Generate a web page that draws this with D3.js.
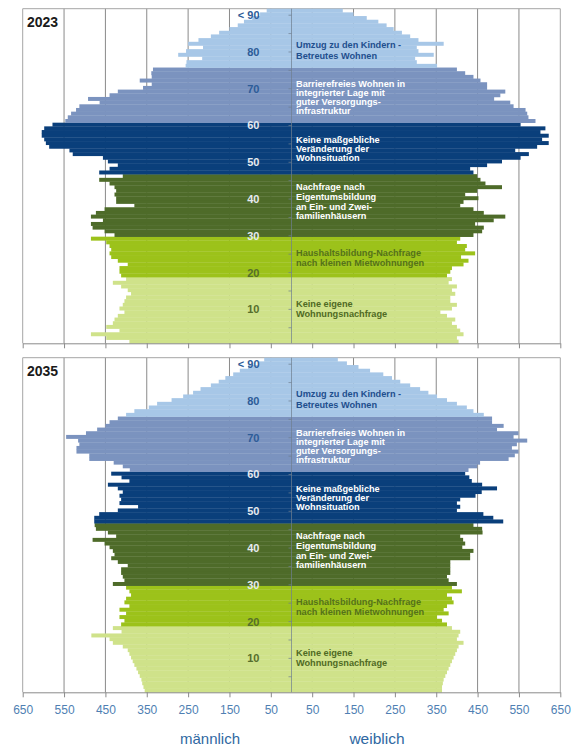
<!DOCTYPE html>
<html>
<head>
<meta charset="utf-8">
<script src="https://cdn.jsdelivr.net/npm/d3@7"></script>
<style>
  body { margin: 0; background: #fff; }
  svg { display: block; font-family: "Liberation Sans", Arial, sans-serif; }
</style>
</head>
<body>
<script>
// ages 0 .. 90 (90 = "< 90" class)
var ages = d3.range(0, 91);

var male2023 = [392, 448, 485, 416, 448, 432, 428, 420, 404, 416,
  408, 404, 400, 388, 396, 412, 432, 400, 412, 416,
  416, 396, 420, 436, 440, 436, 440, 448, 485, 428,
  452, 481, 485, 456, 485, 473, 452, 380, 424, 424,
  428, 424, 428, 440, 465, 408, 465, 440, 420, 444,
  456, 529, 537, 586, 594, 598, 604, 604, 598, 578,
  547, 541, 533, 521, 513, 464, 492, 440, 420, 359,
  338, 367, 338, 339, 335, 256, 254, 216, 274, 255,
  214, 250, 225, 195, 175, 150, 130, 115, 95, 76, 60];

var female2023 = [404, 400, 416, 408, 400, 388, 396, 376, 360, 388,
  400, 384, 384, 396, 388, 400, 380, 388, 376, 384,
  388, 416, 428, 410, 444, 420, 424, 400, 408, 440,
  461, 465, 444, 489, 517, 465, 440, 408, 416, 452,
  420, 449, 509, 469, 457, 449, 440, 432, 473, 509,
  554, 574, 541, 594, 622, 606, 622, 602, 614, 554,
  590, 573, 570, 566, 537, 529, 490, 505, 517, 473,
  473, 457, 440, 420, 400, 352, 303, 299, 344, 307,
  303, 368, 307, 287, 267, 247, 230, 210, 182, 150, 124];

var male2035 = [355, 358, 361, 363, 367, 371, 375, 380, 384, 388,
  392, 396, 408, 432, 440, 484, 411, 432, 412, 404,
  416, 400, 416, 392, 404, 400, 388, 392, 400, 432,
  404, 408, 412, 412, 396, 420, 436, 428, 432, 440,
  452, 481, 424, 444, 473, 476, 477, 477, 465, 420,
  371, 416, 412, 416, 408, 420, 444, 392, 411, 436,
  391, 408, 430, 489, 489, 520, 520, 513, 516, 545,
  497, 470, 450, 440, 420, 400, 380, 345, 325, 290,
  262, 238, 220, 195, 176, 160, 141, 125, 105, 80, 66];

var female2035 = [364, 364, 366, 368, 372, 376, 380, 384, 388, 392,
  396, 400, 404, 416, 400, 404, 408, 388, 376, 364,
  352, 380, 368, 376, 392, 388, 376, 412, 388, 400,
  380, 376, 384, 384, 384, 384, 432, 432, 440, 413,
  420, 415, 408, 462, 461, 440, 512, 488, 464, 400,
  408, 400, 408, 445, 460, 497, 461, 436, 430, 420,
  428, 449, 456, 525, 540, 549, 533, 545, 570, 537,
  549, 497, 513, 485, 485, 465, 440, 424, 400, 376,
  352, 331, 311, 287, 263, 243, 222, 190, 162, 134, 112];

var years = ["2023", "2035"];
var maleSeries = [male2023, male2035];
var femaleSeries = [female2023, female2035];

// age groups: first age of each group
var groupStart = [0, 18, 29, 46, 60, 75];
var groupText = [
  ["Keine eigene", "Wohnungsnachfrage"],
  ["Haushaltsbildung-Nachfrage", "nach kleinen Mietwohnungen"],
  ["Nachfrage nach", "Eigentumsbildung", "an Ein- und Zwei-", "familienhäusern"],
  ["Keine maßgebliche", "Veränderung der", "Wohnsituation"],
  ["Barrierefreies Wohnen in", "integrierter Lage mit", "guter Versorgungs-", "infrastruktur"],
  ["Umzug zu den Kindern -", "Betreutes Wohnen"]
];
var ageTicks = [90, 80, 70, 60, 50, 40, 30, 20, 10];
var xTicks = [-650, -550, -450, -350, -250, -150, -50, 50, 150, 250, 350, 450, 550, 650];

// styles
var groupColor = ["#cfe28a", "#9cc21a", "#4e6b29", "#0a3f7b", "#7b93bf", "#a7c7e7"];
var groupTextColor = ["#4f6b24", "#557219", "#ffffff", "#ffffff", "#ffffff", "#1f4f8e"];
var groupTextTop = [295, 244, 178.5, 131, 75.3, 36.2];
var groupLineGap = [9.8, 10.3, 9.6, 9.2, 9, 10.5];

var width = 571, height = 747;
var panelTop = [8.7, 357.7];
var plotH = 334.6;

var svg = d3.select("body").append("svg")
  .attr("width", width)
  .attr("height", height);

var x = d3.scaleLinear().domain([-650, 650]).range([22.7, 560.3]);

function groupOf(age) {
  var g = 0;
  groupStart.forEach(function(s, i) { if (age >= s) g = i; });
  return g;
}

function ageLabelColor(a) {
  if (a >= 70) return "#2d5c98";
  if (a >= 30) return "#e6eaef";
  return "#566e2c";
}

panelTop.forEach(function(top, p) {
  var bottom = top + plotH;
  var y = d3.scaleBand().domain(ages.slice().reverse()).range([top, bottom]).padding(0);
  var bh = y.bandwidth();
  var g = svg.append("g");

  // gridlines behind the bars
  g.selectAll(".grid")
    .data(xTicks.slice(1, -1))
    .enter().append("line")
      .attr("x1", function(d) { return x(d); })
      .attr("x2", function(d) { return x(d); })
      .attr("y1", top).attr("y2", bottom)
      .style("stroke", "#8a8a8a")
      .style("stroke-width", 1);

  // frame
  g.append("path")
    .attr("d", "M" + x(-650) + "," + bottom + "V" + top + "H" + x(650) + "V" + bottom)
    .style("fill", "none")
    .style("stroke", "#a6a6a6")
    .style("stroke-width", 1);

  // bars: one band per age from male to female value
  var male = maleSeries[p], female = femaleSeries[p];
  g.selectAll(".bar")
    .data(ages)
    .enter().append("rect")
      .attr("x", function(a) { return x(-male[a]); })
      .attr("width", function(a) { return x(female[a]) - x(-male[a]); })
      .attr("y", function(a) { return y(a); })
      .attr("height", bh + 0.3)
      .style("fill", function(a) { return groupColor[groupOf(a)]; });

  // centre axis with ticks every 5 years
  g.append("line")
    .attr("x1", x(0)).attr("x2", x(0))
    .attr("y1", top).attr("y2", bottom)
    .style("stroke", "#6f7f90")
    .style("stroke-width", 1)
    .style("opacity", 0.7);
  g.selectAll(".ytick")
    .data(d3.range(5, 91, 5))
    .enter().append("line")
      .attr("x1", x(0) - 3).attr("x2", x(0))
      .attr("y1", function(a) { return y(a) + bh * 1.5 + 1; })
      .attr("y2", function(a) { return y(a) + bh * 1.5 + 1; })
      .style("stroke", "#6f7f90")
      .style("opacity", 0.7);

  // age labels
  g.selectAll(".agelab")
    .data(ageTicks)
    .enter().append("text")
      .attr("x", 259.5)
      .attr("y", function(a) { return y(a) + bh * 1.5 + 1; })
      .attr("dy", "0.36em")
      .attr("text-anchor", "end")
      .style("font-size", "11px")
      .style("font-weight", "bold")
      .style("fill", ageLabelColor)
      .text(function(a) { return a === 90 ? "< 90" : a; });

  // group descriptions
  groupText.forEach(function(lines, i) {
    var t = g.append("text")
      .attr("x", 296)
      .style("font-size", "9.2px")
      .style("font-weight", "bold")
      .style("fill", groupTextColor[i]);
    lines.forEach(function(line, k) {
      t.append("tspan")
        .attr("x", 296)
        .attr("y", top + groupTextTop[i] + k * groupLineGap[i])
        .attr("dy", "0.35em")
        .text(line);
    });
  });

  // year
  g.append("text")
    .attr("x", 27)
    .attr("y", top + 18)
    .style("font-size", "14px")
    .style("font-weight", "bold")
    .style("fill", "#1a1a1a")
    .text(years[p]);

  // bottom axis
  var axis = d3.axisBottom(x)
    .tickValues(xTicks)
    .tickSize(5)
    .tickSizeOuter(0)
    .tickFormat(p === 1 ? function(d) { return Math.abs(d); } : "");
  var ax = g.append("g")
    .attr("transform", "translate(0," + bottom + ")")
    .call(axis);
  ax.select(".domain").style("stroke", "#8a8a8a");
  ax.selectAll(".tick line").style("stroke", "#8a8a8a");
  ax.selectAll(".tick text")
    .attr("dy", "1.15em")
    .style("font-size", "12px")
    .style("font-family", "\"Liberation Sans\", Arial, sans-serif")
    .style("fill", "#4f7fb3");
});

svg.append("text")
  .attr("x", 210).attr("y", 744)
  .attr("text-anchor", "middle")
  .style("font-size", "15px")
  .style("fill", "#2f68a2")
  .text("männlich");
svg.append("text")
  .attr("x", 377).attr("y", 744)
  .attr("text-anchor", "middle")
  .style("font-size", "15.5px")
  .style("fill", "#2f68a2")
  .text("weiblich");
</script>
</body>
</html>
